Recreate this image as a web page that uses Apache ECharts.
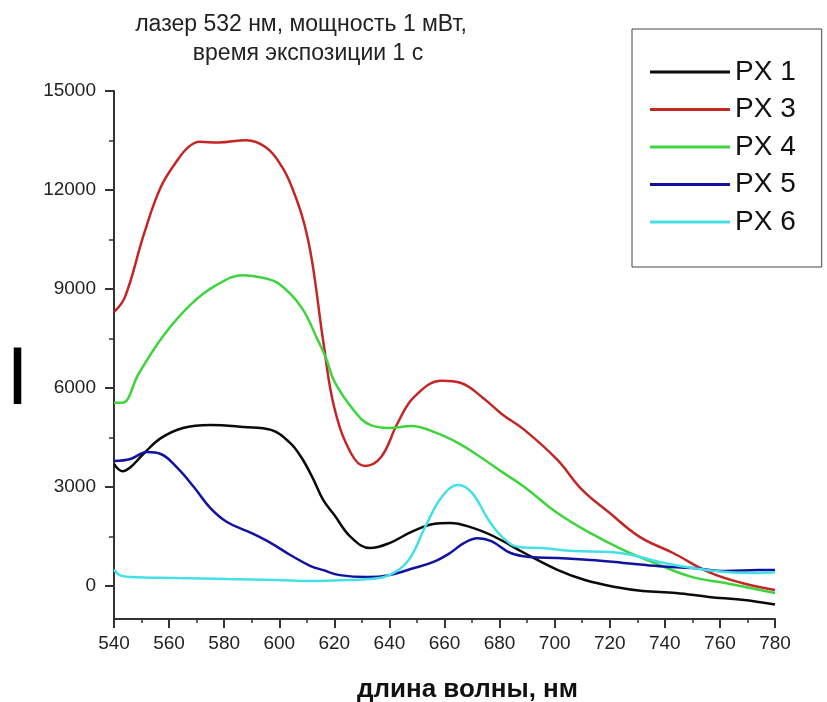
<!DOCTYPE html>
<html>
<head>
<meta charset="utf-8">
<script src="https://cdn.jsdelivr.net/npm/echarts@6/dist/echarts.min.js"></script>
<style>html,body{margin:0;padding:0;background:#fff;}#chart{width:827px;height:702px;}</style>
</head>
<body>
<div id="chart"></div>
<script>
const titleLine1 = 'лазер 532 нм, мощность 1 мВт,';
const titleLine2 = 'время экспозиции 1 с';
const xAxisName = 'длина волны, нм';
const yAxisName = 'I';
const seriesNames = ['PX 1', 'PX 3', 'PX 4', 'PX 5', 'PX 6'];
const seriesColors = ['#0a0a0a', '#c42626', '#3dd43d', '#1212a0', '#44e0e6'];

const px1Nm  = [540, 543, 546, 551, 557, 565, 575, 587, 597, 604, 608, 612, 616, 620, 626, 633, 640, 648, 656, 662, 670, 678, 689, 701, 711, 722, 732, 744, 756, 768, 780];
const px1Val = [3700, 3480, 3600, 4030, 4480, 4790, 4880, 4820, 4730, 4330, 3900, 3300, 2600, 2150, 1480, 1150, 1300, 1640, 1880, 1910, 1770, 1500, 1000, 490, 180, -30, -150, -210, -330, -420, -560];

const px3Nm  = [540, 544, 551, 557, 563, 567, 571, 578, 588, 595, 601, 605, 609, 612, 616, 620, 626, 631, 637, 643, 649, 659, 666, 674, 681, 689, 701, 710, 720, 731, 743, 756, 768, 780];
const px3Val = [8300, 8760, 10700, 12090, 12900, 13300, 13460, 13440, 13510, 13300, 12700, 12000, 11000, 9800, 7400, 5400, 4030, 3640, 3910, 4940, 5730, 6220, 6150, 5700, 5200, 4730, 3820, 2910, 2210, 1480, 1000, 420, 90, -120];

const px4Nm  = [540, 543, 549, 558, 568, 577, 587, 594, 600, 608, 614, 617, 620, 627, 633, 640, 648, 657, 665, 673, 681, 689, 701, 713, 725, 738, 750, 762, 780];
const px4Val = [5550, 5550, 6440, 7590, 8540, 9110, 9420, 9340, 9150, 8450, 7450, 6900, 6200, 5330, 4880, 4790, 4850, 4640, 4330, 3910, 3450, 3000, 2210, 1600, 1090, 640, 270, 90, -210];

const px5Nm  = [540, 546, 552, 557, 563, 569, 575, 581, 590, 597, 604, 611, 616, 622, 632, 640, 649, 656, 662, 667, 672, 677, 684, 691, 701, 713, 725, 738, 750, 762, 774, 780];
const px5Val = [3790, 3850, 4060, 4000, 3580, 3000, 2360, 1940, 1600, 1300, 940, 620, 480, 330, 270, 330, 545, 730, 1000, 1300, 1450, 1360, 1000, 880, 850, 790, 700, 600, 545, 455, 485, 485];

const px6Nm  = [540, 542, 546, 563, 581, 599, 612, 620, 632, 640, 647, 653, 659, 665, 670, 676, 681, 687, 695, 707, 720, 728, 738, 750, 762, 774, 780];
const px6Val = [500, 330, 270, 240, 210, 180, 150, 170, 210, 330, 790, 1790, 2700, 3060, 2820, 2000, 1480, 1180, 1150, 1060, 1030, 940, 730, 545, 425, 395, 420];

const xMin = 540, xMax = 780, xStep = 20;
const yMin = -1000, yMax = 15000, yTickMin = 0, yTickStep = 3000;

const nmLists = [px1Nm, px3Nm, px4Nm, px5Nm, px6Nm];
const valLists = [px1Val, px3Val, px4Val, px5Val, px6Val];

const FONT = '"Liberation Sans", Arial, sans-serif';
const axisColor = '#333';

const series = seriesNames.map((name, i) => ({
  name: name,
  type: 'line',
  xAxisIndex: 0,
  yAxisIndex: 0,
  data: nmLists[i].map((x, k) => [x, valLists[i][k]]),
  showSymbol: false,
  symbol: 'none',
  smooth: 0.4,
  lineStyle: { color: seriesColors[i], width: 2.5 },
  itemStyle: { color: seriesColors[i] },
  clip: true,
  z: 3
}));

const chart = echarts.init(document.getElementById('chart'), null, { renderer: 'canvas' });
chart.setOption({
  animation: false,
  backgroundColor: '#ffffff',
  grid: [
    { left: 114, top: 91, width: 661, height: 528, outerBoundsMode: 'none', containLabel: false },
    { left: 114, top: 91, width: 661, height: 495, outerBoundsMode: 'none', containLabel: false }
  ],
  xAxis: [
    {
      gridIndex: 0, type: 'value', min: xMin, max: xMax, interval: xStep,
      axisLine: { show: true, onZero: false, lineStyle: { color: axisColor, width: 2 } },
      axisTick: { show: true, inside: false, length: 9, lineStyle: { color: axisColor, width: 2 } },
      minorTick: { show: true, splitNumber: 2, length: 4, lineStyle: { color: axisColor, width: 1.5 } },
      axisLabel: { fontSize: 19, color: '#222', fontFamily: FONT, margin: 15 },
      splitLine: { show: false },
      name: xAxisName, nameLocation: 'middle', nameGap: 58,
      nameTextStyle: { fontSize: 26, fontWeight: 'bold', color: '#111', fontFamily: FONT, padding: [0, 0, 0, 46] }
    },
    { gridIndex: 1, type: 'value', min: xMin, max: xMax, show: false }
  ],
  yAxis: [
    {
      gridIndex: 0, type: 'value', min: yMin, max: yMax,
      axisLine: { show: true, onZero: false, lineStyle: { color: axisColor, width: 2 } },
      axisTick: { show: false }, axisLabel: { show: false }, splitLine: { show: false }
    },
    {
      gridIndex: 1, type: 'value', min: yTickMin, max: yMax, interval: yTickStep,
      axisLine: { show: false },
      axisTick: { show: true, inside: false, length: 9, lineStyle: { color: axisColor, width: 2 } },
      minorTick: { show: true, splitNumber: 2, length: 5, lineStyle: { color: axisColor, width: 1.5 } },
      axisLabel: { fontSize: 19, color: '#222', fontFamily: FONT, margin: 18, formatter: v => String(v) },
      splitLine: { show: false }
    }
  ],
  legend: {
    data: seriesNames,
    orient: 'vertical',
    left: 632, top: 29,
    padding: [28, 26, 30, 18],
    itemWidth: 80, itemHeight: 3, itemGap: 7.5,
    icon: 'rect',
    borderColor: '#444', borderWidth: 1,
    backgroundColor: '#fff',
    textStyle: { fontSize: 28, color: '#111', fontFamily: FONT, lineHeight: 30 },
    selectedMode: false
  },
  graphic: [
    {
      type: 'text', x: 301, y: 25,
      style: { text: titleLine1, textAlign: 'center', textVerticalAlign: 'middle', font: '23px ' + FONT, fill: '#222' }
    },
    {
      type: 'text', x: 308, y: 54,
      style: { text: titleLine2, textAlign: 'center', textVerticalAlign: 'middle', font: '23px ' + FONT, fill: '#222' }
    },
    {
      type: 'text', x: 17.5, y: 382,
      style: { text: yAxisName, textAlign: 'center', textVerticalAlign: 'middle', font: '81px ' + FONT, fill: '#000' }
    }
  ],
  series: series
});
</script>
</body>
</html>
